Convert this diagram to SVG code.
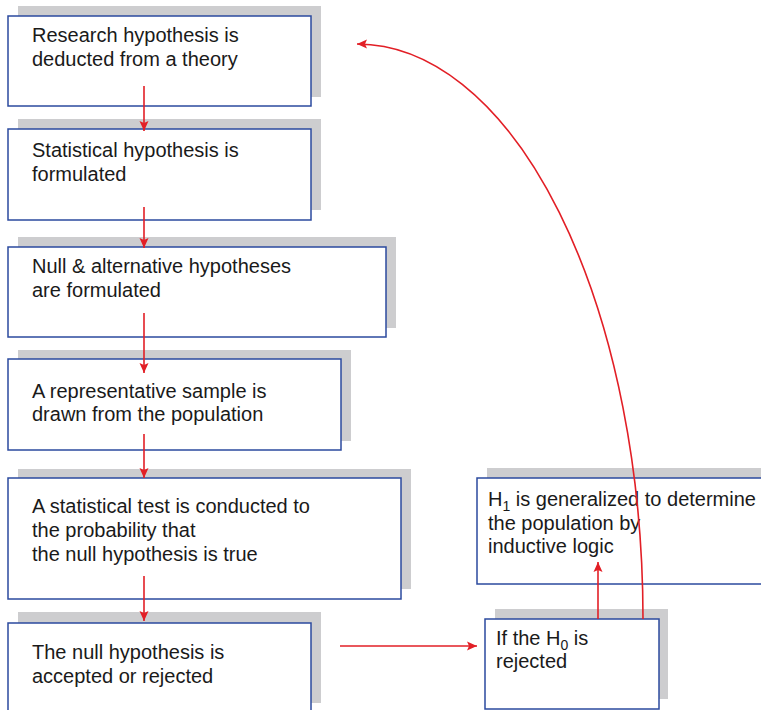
<svg xmlns="http://www.w3.org/2000/svg" width="761" height="710" viewBox="0 0 761 710">
  <style>
    .shadow { fill: #cdcdcf; }
    .box { fill: #ffffff; stroke: #2b4a9e; stroke-width: 1.5; }
    .label { font-family: "Liberation Sans", Arial, sans-serif; font-size: 20px; fill: #1a1a1a; }
    .sub { font-size: 14px; baseline-shift: -5px; }
    .conn { fill: none; stroke: #e21f26; stroke-width: 1.6; marker-end: url(#arrow); }
  </style>
  <defs>
    <marker id="arrow" markerUnits="userSpaceOnUse" markerWidth="11" markerHeight="10" refX="10" refY="5" orient="auto">
      <path d="M0,0.5 L10,5 L0,9.5 L2,5 z" fill="#e21f26"/>
    </marker>
  </defs>

  <rect width="761" height="710" fill="#ffffff"/>

  <g id="node-research">
    <rect class="shadow" x="18" y="6" width="303" height="91"/>
    <rect class="box" x="8" y="16" width="303" height="90"/>
    <text class="label" x="32" y="42">Research hypothesis is</text>
    <text class="label" x="32" y="66">deducted from a theory</text>
  </g>

  <g id="node-statistical">
    <rect class="shadow" x="18" y="119" width="303" height="91"/>
    <rect class="box" x="8" y="129" width="303" height="91"/>
    <text class="label" x="32" y="157">Statistical hypothesis is</text>
    <text class="label" x="32" y="181">formulated</text>
  </g>

  <g id="node-null-alt">
    <rect class="shadow" x="18" y="237" width="378" height="91"/>
    <rect class="box" x="8" y="247" width="378" height="90"/>
    <text class="label" x="32" y="273">Null &amp; alternative hypotheses</text>
    <text class="label" x="32" y="297">are formulated</text>
  </g>

  <g id="node-sample">
    <rect class="shadow" x="18" y="350" width="333" height="91"/>
    <rect class="box" x="8" y="359" width="333" height="91"/>
    <text class="label" x="32" y="398">A representative sample is</text>
    <text class="label" x="32" y="421">drawn from the population</text>
  </g>

  <g id="node-test">
    <rect class="shadow" x="18" y="469" width="393" height="120"/>
    <rect class="box" x="8" y="478" width="393" height="121"/>
    <text class="label" x="32" y="513">A statistical test is conducted to</text>
    <text class="label" x="32" y="537">the probability that</text>
    <text class="label" x="32" y="561">the null hypothesis is true</text>
  </g>

  <g id="node-decision">
    <rect class="shadow" x="18" y="612" width="303" height="91"/>
    <rect class="box" x="8" y="623" width="303" height="92"/>
    <text class="label" x="32" y="659">The null hypothesis is</text>
    <text class="label" x="32" y="683">accepted or rejected</text>
  </g>

  <g id="node-rejected">
    <rect class="shadow" x="495" y="609" width="173" height="90"/>
    <rect class="box" x="485" y="619" width="174" height="90"/>
    <text class="label" x="496" y="645">If the H<tspan class="sub">0</tspan> is</text>
    <text class="label" x="496" y="668">rejected</text>
  </g>

  <g id="node-generalized">
    <rect class="shadow" x="487" y="468" width="290" height="107"/>
    <rect class="box" x="477" y="478" width="300" height="106"/>
    <text class="label" x="488" y="506">H<tspan class="sub">1</tspan> is generalized to determine</text>
    <text class="label" x="488" y="530">the population by</text>
    <text class="label" x="488" y="553">inductive logic</text>
  </g>

  <g id="connectors">
    <line class="conn" x1="144" y1="86" x2="144" y2="131"/>
    <line class="conn" x1="144" y1="207" x2="144" y2="248"/>
    <line class="conn" x1="144" y1="313" x2="144" y2="373"/>
    <line class="conn" x1="144" y1="434" x2="144" y2="478"/>
    <line class="conn" x1="144" y1="576" x2="144" y2="621"/>
    <line class="conn" x1="340" y1="646" x2="477" y2="646"/>
    <line class="conn" x1="598" y1="619" x2="598" y2="562"/>
    <path class="conn" d="M643,619 A286,575 0 0 0 357,44"/>
  </g>
</svg>
